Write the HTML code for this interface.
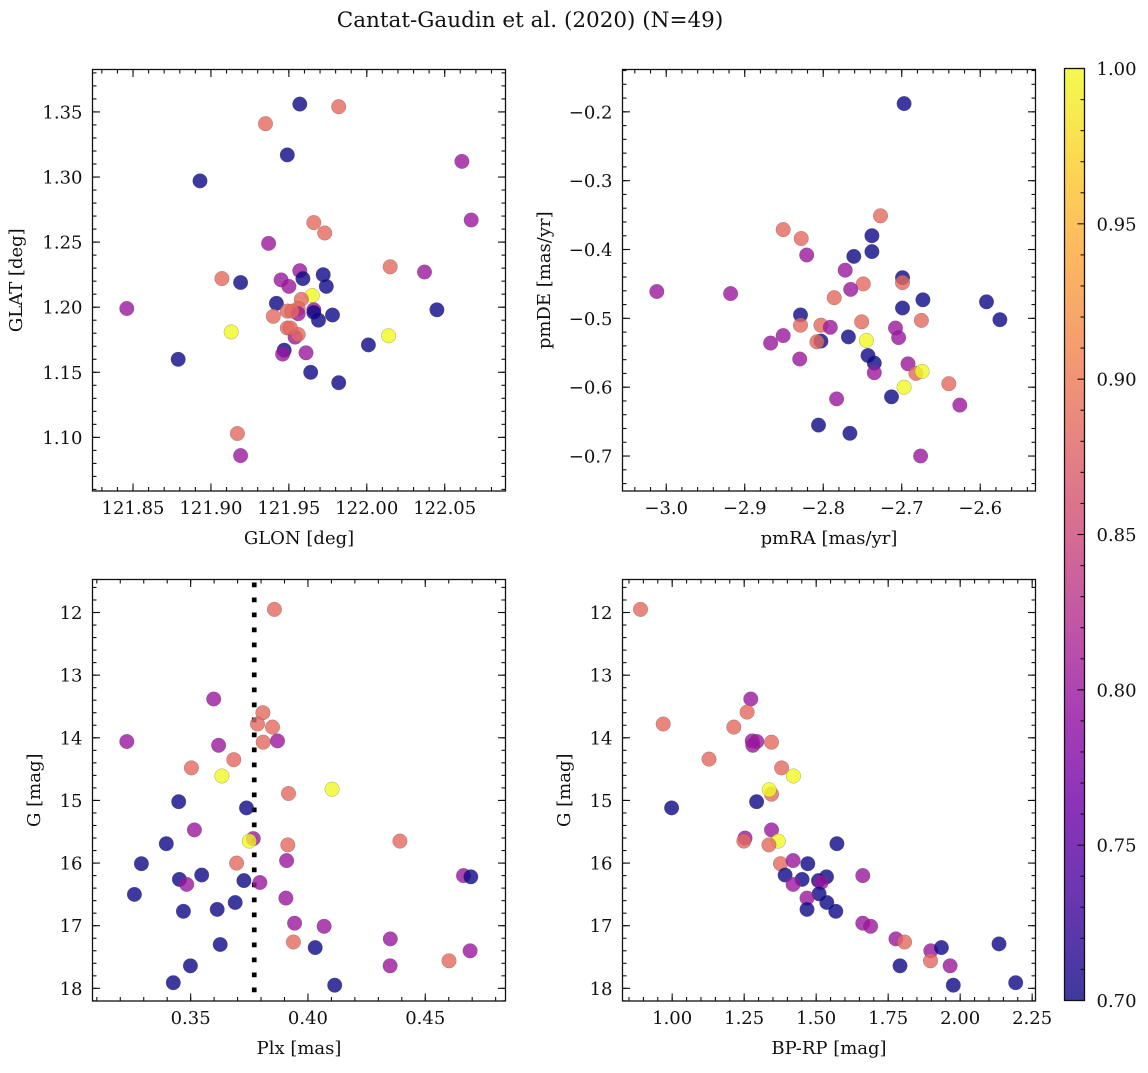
<!DOCTYPE html>
<html><head><meta charset="utf-8"><style>
html,body{margin:0;padding:0;background:#fff;}
svg text{font-family:"DejaVu Serif","Liberation Serif",serif;fill:#111;}
</style></head><body>
<svg id="fig" xmlns="http://www.w3.org/2000/svg" width="1148" height="1068" viewBox="0 0 1148 1068">
<defs>
<linearGradient id="cbgrad" x1="0" y1="1" x2="0" y2="0"></linearGradient>
</defs>
<text x="530" y="27" font-size="21.5" text-anchor="middle">Cantat-Gaudin et al. (2020) (N=49)</text>
</svg>
<script>
// Panel 1: GLON vs GLAT
const glonX = [121.957,121.982,121.935,121.949,121.893,122.061,122.067,121.966,121.973,121.937,122.015,122.037,121.957,121.959,121.972,121.974,121.945,121.950,121.907,121.919,121.965,121.958,121.942,121.846,122.045,121.956,121.949,121.956,121.966,121.969,121.978,121.940,121.949,121.954,121.956,121.951,121.913,122.014,122.001,121.879,121.947,121.946,121.961,121.964,121.982,121.917,121.919,121.966,121.952];
const glatY = [1.356,1.354,1.341,1.317,1.297,1.312,1.267,1.265,1.257,1.249,1.231,1.227,1.228,1.222,1.225,1.216,1.221,1.216,1.222,1.219,1.209,1.206,1.203,1.199,1.198,1.199,1.197,1.195,1.198,1.190,1.194,1.193,1.184,1.177,1.179,1.184,1.181,1.178,1.171,1.160,1.167,1.164,1.165,1.150,1.142,1.103,1.086,1.196,1.197];
const glatP = [0.70,0.885,0.885,0.70,0.70,0.80,0.80,0.885,0.885,0.80,0.885,0.80,0.80,0.70,0.70,0.70,0.80,0.80,0.885,0.70,1.0,0.885,0.70,0.80,0.70,0.885,0.885,0.80,0.80,0.70,0.70,0.885,0.885,0.80,0.885,0.885,1.0,1.0,0.70,0.70,0.70,0.80,0.80,0.70,0.70,0.885,0.80,0.70,0.885];
// Panel 2: pmRA vs pmDE
const pmraX = [-2.697,-2.727,-2.851,-2.828,-2.821,-2.738,-2.738,-2.761,-2.772,-2.699,-2.699,-2.749,-2.765,-2.786,-3.012,-2.918,-2.673,-2.592,-2.699,-2.575,-2.829,-2.829,-2.803,-2.791,-2.751,-2.675,-2.708,-2.704,-2.851,-2.867,-2.768,-2.803,-2.808,-2.745,-2.743,-2.735,-2.692,-2.830,-2.682,-2.674,-2.735,-2.697,-2.640,-2.713,-2.783,-2.626,-2.806,-2.766,-2.676];
const pmdeY = [-0.188,-0.351,-0.371,-0.384,-0.408,-0.380,-0.403,-0.410,-0.430,-0.441,-0.448,-0.450,-0.458,-0.470,-0.461,-0.464,-0.473,-0.476,-0.485,-0.502,-0.495,-0.510,-0.510,-0.513,-0.505,-0.503,-0.514,-0.528,-0.525,-0.536,-0.527,-0.533,-0.534,-0.532,-0.554,-0.565,-0.566,-0.559,-0.580,-0.577,-0.579,-0.600,-0.595,-0.614,-0.617,-0.626,-0.655,-0.667,-0.700];
const pmP = [0.70,0.885,0.885,0.885,0.80,0.70,0.70,0.70,0.80,0.70,0.885,0.885,0.80,0.885,0.80,0.80,0.70,0.70,0.70,0.70,0.70,0.885,0.885,0.80,0.885,0.885,0.80,0.80,0.80,0.80,0.70,0.70,0.885,1.0,0.70,0.70,0.80,0.80,0.885,1.0,0.80,1.0,0.885,0.70,0.80,0.80,0.70,0.70,0.80];
// Panel 3: Plx vs G
const plxX = [0.3857,0.3598,0.3808,0.3785,0.3849,0.3809,0.3870,0.3228,0.3619,0.3684,0.3503,0.3633,0.4103,0.3917,0.3449,0.3738,0.3516,0.3396,0.3767,0.3750,0.3914,0.4392,0.3290,0.3696,0.3909,0.3547,0.3452,0.3483,0.3727,0.3795,0.4663,0.4694,0.3260,0.3690,0.3906,0.3469,0.3613,0.3943,0.4069,0.3938,0.3626,0.4031,0.4351,0.4691,0.4601,0.4350,0.3499,0.3426,0.4114];
const plxG = [11.95,13.38,13.60,13.78,13.83,14.07,14.05,14.06,14.12,14.35,14.48,14.61,14.82,14.89,15.02,15.12,15.47,15.69,15.61,15.65,15.71,15.65,16.01,16.00,15.96,16.19,16.26,16.34,16.28,16.31,16.20,16.22,16.50,16.63,16.56,16.77,16.74,16.96,17.01,17.26,17.30,17.35,17.21,17.40,17.56,17.64,17.64,17.91,17.95];
const plxP = [0.885,0.80,0.885,0.885,0.885,0.885,0.80,0.80,0.80,0.885,0.885,1.0,1.0,0.885,0.70,0.70,0.80,0.70,0.80,1.0,0.885,0.885,0.70,0.885,0.80,0.70,0.70,0.80,0.70,0.80,0.80,0.70,0.70,0.70,0.80,0.70,0.70,0.80,0.80,0.885,0.70,0.70,0.80,0.80,0.885,0.80,0.70,0.70,0.70];
const plxCut = [0.3771];
// Panel 4: BP-RP vs G
const bprpX = [0.890,1.273,1.260,0.969,1.214,1.278,1.294,1.280,1.345,1.128,1.380,1.421,1.345,1.337,0.998,1.293,1.345,1.253,1.249,1.368,1.336,1.572,1.376,1.420,1.471,1.392,1.451,1.420,1.508,1.536,1.517,1.662,1.510,1.537,1.468,1.468,1.568,1.662,1.689,1.777,1.807,1.898,1.935,1.897,2.135,1.791,1.965,1.976,2.193];
const cmdG = [11.95,13.38,13.59,13.78,13.83,14.05,14.06,14.12,14.07,14.34,14.48,14.61,14.90,14.83,15.12,15.02,15.47,15.60,15.65,15.65,15.71,15.69,16.01,15.96,16.01,16.19,16.26,16.34,16.28,16.22,16.31,16.20,16.49,16.63,16.56,16.74,16.77,16.96,17.01,17.21,17.26,17.40,17.35,17.56,17.29,17.64,17.64,17.95,17.91];
const cmdP = [0.885,0.80,0.885,0.885,0.885,0.80,0.80,0.80,0.885,0.885,0.885,1.0,0.885,1.0,0.70,0.70,0.80,0.80,0.885,1.0,0.885,0.70,0.885,0.80,0.70,0.70,0.70,0.80,0.70,0.70,0.80,0.80,0.70,0.70,0.80,0.70,0.70,0.80,0.80,0.80,0.885,0.80,0.70,0.885,0.70,0.70,0.80,0.70,0.70];
// Colorbar
const cbTicks = [0.70,0.75,0.80,0.85,0.90,0.95,1.00];
const cbTickLabels = ["0.70","0.75","0.80","0.85","0.90","0.95","1.00"];

const NS = "http://www.w3.org/2000/svg";
const svg = document.getElementById('fig');
const plasma = [[13,8,135],[65,4,157],[106,0,168],[143,13,164],[177,42,144],[204,71,120],[225,100,98],[242,132,75],[252,166,54],[252,206,37],[240,249,33]];
function cmap(t){t=Math.max(0,Math.min(1,t));const f=t*10,i=Math.min(9,Math.floor(f)),r=f-i;const a=plasma[i],b=plasma[i+1];return 'rgb('+[0,1,2].map(k=>Math.round(a[k]+(b[k]-a[k])*r)).join(',')+')';}
function pcol(p){return cmap((p-0.7)/0.3);}
function mk(tag,attrs,parent){const e=document.createElementNS(NS,tag);for(const k in attrs)e.setAttribute(k,attrs[k]);(parent||svg).appendChild(e);return e;}

const grad=document.getElementById('cbgrad');
for(let i=0;i<=10;i++){const s=document.createElementNS(NS,'stop');s.setAttribute('offset',(i*10)+'%');s.setAttribute('stop-color',cmap(i/10));grad.appendChild(s);}

const FS=18;
function panel(cfg){
  const g=mk('g',{});
  
  
  const L=cfg.box[0],T=cfg.box[1],R=cfg.box[2],B=cfg.box[3];
  const sx=v=>L+(v-cfg.xr[0])/(cfg.xr[1]-cfg.xr[0])*(R-L);
  const sy=v=>T+(v-cfg.yr[0])/(cfg.yr[1]-cfg.yr[0])*(B-T);
  if(cfg.vline){const ln=mk('line',{x1:sx(cfg.vline[0]),x2:sx(cfg.vline[0]),y1:T+3,y2:B,stroke:'#000','stroke-width':4.7,'stroke-dasharray':'4.7 10.3'},g);
    
    }
  const pts=mk('g',{},g);
  
  
  for(let i=0;i<cfg.x.length;i++){
    const c=mk('circle',{cx:sx(cfg.x[i]).toFixed(1),cy:sy(cfg.y[i]).toFixed(1),r:7.3,fill:pcol(cfg.p[i]),'fill-opacity':0.8,stroke:'#555','stroke-opacity':0.5,'stroke-width':0.5},pts);
    
    
  }
  const fr=mk('rect',{x:L,y:T,width:R-L,height:B-T,fill:'none',stroke:'#111','stroke-width':1.3},g);
  
  
  const eps=1e-9;
  function ticksX(step,len){const n0=Math.ceil(cfg.xr[0]/step-eps),n1=Math.floor(cfg.xr[1]/step+eps);for(let n=n0;n<=n1;n++){const x=sx(n*step);mk('line',{x1:x,x2:x,y1:B,y2:B-len,stroke:'#111','stroke-width':1.1},g);mk('line',{x1:x,x2:x,y1:T,y2:T+len,stroke:'#111','stroke-width':1.1},g);}}
  function ticksY(step,len){const lo=Math.min(cfg.yr[0],cfg.yr[1]),hi=Math.max(cfg.yr[0],cfg.yr[1]);const n0=Math.ceil(lo/step-eps),n1=Math.floor(hi/step+eps);for(let n=n0;n<=n1;n++){const y=sy(n*step);mk('line',{x1:L,x2:L+len,y1:y,y2:y,stroke:'#111','stroke-width':1.1},g);mk('line',{x1:R,x2:R-len,y1:y,y2:y,stroke:'#111','stroke-width':1.1},g);}}
  ticksX(cfg.xminor,4);ticksX(cfg.xmajor,7.5);ticksY(cfg.yminor,4);ticksY(cfg.ymajor,7.5);
  cfg.xt.forEach(v=>{const t=mk('text',{x:sx(v),y:B+23,'font-size':FS,'text-anchor':'middle'},g);t.textContent=fmt(v,cfg.xd);
    
    });
  cfg.yt.forEach(v=>{const t=mk('text',{x:L-10,y:sy(v)+6.5,'font-size':FS,'text-anchor':'end'},g);t.textContent=fmt(v,cfg.yd);
    
    });
  const xl=mk('text',{x:(L+R)/2,y:B+53,'font-size':FS,'text-anchor':'middle'},g);xl.textContent=cfg.xlabel;
  
  
  const yl=mk('text',{x:cfg.ylx,y:(T+B)/2,'font-size':FS,'text-anchor':'middle',transform:`rotate(-90 ${cfg.ylx} ${(T+B)/2})`},g);yl.textContent=cfg.ylabel;
  
  
}
function fmt(v,d){const s=Math.abs(v).toFixed(d);return (v<-1e-12?'\u2212':'')+s;}

panel({name:'glon-glat-panel',box:[92.5,69.5,505.5,491],xr:[121.824,122.089],yr:[1.3826,1.0588],x:glonX,y:glatY,p:glatP,
  xmajor:0.05,xminor:0.01,ymajor:0.05,yminor:0.01,xt:[121.85,121.90,121.95,122.00,122.05],xd:2,yt:[1.10,1.15,1.20,1.25,1.30,1.35],yd:2,
  xlabel:'GLON [deg]',ylabel:'GLAT [deg]',ylx:22});
panel({name:'proper-motion-panel',box:[622.5,69.5,1035.5,491],xr:[-3.0557,-2.5296],yr:[-0.1385,-0.7508],x:pmraX,y:pmdeY,p:pmP,
  xmajor:0.1,xminor:0.02,ymajor:0.1,yminor:0.02,xt:[-3.0,-2.9,-2.8,-2.7,-2.6],xd:1,yt:[-0.2,-0.3,-0.4,-0.5,-0.6,-0.7],yd:1,
  xlabel:'pmRA [mas/yr]',ylabel:'pmDE [mas/yr]',ylx:550});
panel({name:'parallax-magnitude-panel',box:[92.5,579.5,505.5,1001],xr:[0.30816,0.4842],yr:[11.473,18.202],x:plxX,y:plxG,p:plxP,vline:plxCut,
  xmajor:0.05,xminor:0.01,ymajor:1,yminor:0.2,xt:[0.35,0.40,0.45],xd:2,yt:[12,13,14,15,16,17,18],yd:0,
  xlabel:'Plx [mas]',ylabel:'G [mag]',ylx:40});
panel({name:'color-magnitude-panel',box:[622.5,579.5,1035.5,1001],xr:[0.8275,2.2616],yr:[11.473,18.202],x:bprpX,y:cmdG,p:cmdP,
  xmajor:0.25,xminor:0.05,ymajor:1,yminor:0.2,xt:[1.00,1.25,1.50,1.75,2.00,2.25],xd:2,yt:[12,13,14,15,16,17,18],yd:0,
  xlabel:'BP-RP [mag]',ylabel:'G [mag]',ylx:570});

(function(){
  const g=mk('g',{});
  
  
  const L=1064.5,R=1084.5,T=68.5,B=1000.5;
  const cy=v=>B-(v-0.7)/0.3*(B-T);
  mk('rect',{x:L,y:T,width:R-L,height:B-T,fill:'url(#cbgrad)','fill-opacity':0.8},g);
  mk('rect',{x:L,y:T,width:R-L,height:B-T,fill:'none',stroke:'#111','stroke-width':1.3},g);
  for(let n=70;n<=100;n++){const y=cy(n/100);const major=(n%5===0);mk('line',{x1:R,x2:R-(major?7:4),y1:y,y2:y,stroke:'#111','stroke-width':1.1},g);}
  cbTicks.forEach((v,i)=>{const t=mk('text',{x:R+12,y:cy(v)+6.5,'font-size':FS},g);t.textContent=cbTickLabels[i];
    
    });
})();
</script>
</body></html>
